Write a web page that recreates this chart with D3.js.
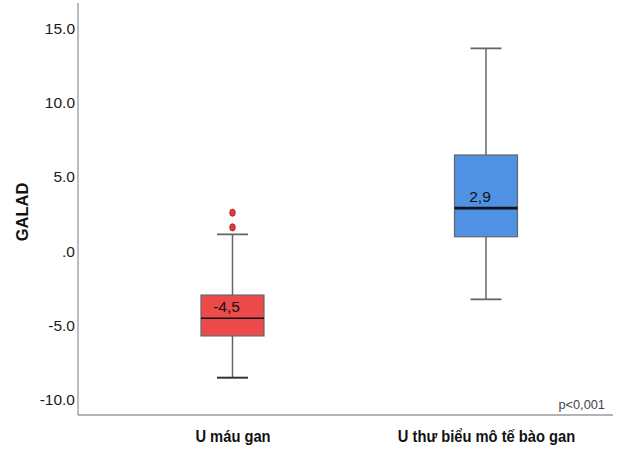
<!DOCTYPE html>
<html>
<head>
<meta charset="utf-8">
<script src="https://cdn.jsdelivr.net/npm/d3@7/dist/d3.min.js"></script>
<style>
  html, body { margin: 0; padding: 0; background: #fff; }
  svg { display: block; font-family: "Liberation Sans", Arial, sans-serif; }
</style>
</head>
<body>
<svg id="chart" width="622" height="450"></svg>
<script>
// Box plot of GALAD score by tumour type
const categories = ["U máu gan", "U thư biểu mô tế bào gan"];
const whiskerLow  = [-8.5, -3.23];
const q1          = [-5.69, 0.98];
const medians     = [-4.5, 2.9];
const q3          = [-2.94, 6.48];
const whiskerHigh = [1.14, 13.65];
const outliers    = [[1.61, 2.6], []];
const medianLabels = ["-4,5", "2,9"];
const yTicks = [-10, -5, 0, 5, 10, 15];
const yTickLabels = ["-10.0", "-5.0", ".0", "5.0", "10.0", "15.0"];
const fills = ["#ec4a4b", "#4f92e3"];
const pNote = "p<0,001";

const svg = d3.select("#chart");

const frame = { left: 78, right: 613, top: 3, bottom: 415 };

const y = d3.scaleLinear().domain([-10, 15]).range([400, 28.3]);
const x = d3.scalePoint().domain(categories).range([232.5, 486]);

const boxW = 63, capW = 31;

// frame lines
svg.append("line")
  .attr("x1", frame.left).attr("x2", frame.left)
  .attr("y1", frame.top).attr("y2", frame.bottom)
  .attr("stroke", "#9a9a9a").attr("stroke-width", 1.3);
svg.append("line")
  .attr("x1", frame.left).attr("x2", frame.right)
  .attr("y1", frame.bottom).attr("y2", frame.bottom)
  .attr("stroke", "#9a9a9a").attr("stroke-width", 1.3);

// y axis labels (no tick marks)
const yAxis = d3.axisLeft(y)
  .tickValues(yTicks)
  .tickFormat((d, i) => yTickLabels[i])
  .tickSize(0)
  .tickPadding(3);
const yg = svg.append("g").attr("transform", `translate(${frame.left},0)`).call(yAxis);
yg.select(".domain").remove();
yg.selectAll("text")
  .attr("font-size", 15.5)
  .attr("font-family", "'Liberation Sans', Arial, sans-serif")
  .attr("fill", "#1a1a1a");

// y axis title
svg.append("text")
  .attr("transform", `translate(28,212) rotate(-90)`)
  .attr("text-anchor", "middle")
  .attr("font-size", 16.5)
  .attr("font-weight", "bold")
  .attr("fill", "#111")
  .text("GALAD");

// x axis category labels, slightly condensed around each tick centre
const xAxis = d3.axisBottom(x).tickSize(0).tickPadding(0);
const xg = svg.append("g").attr("transform", `translate(0,${frame.bottom})`).call(xAxis);
xg.select(".domain").remove();
xg.selectAll("text")
  .attr("dy", null)
  .attr("y", 0)
  .attr("transform", "translate(0,27) scale(0.92,1)")
  .attr("font-size", 16)
  .attr("font-weight", "bold")
  .attr("font-family", "'Liberation Sans', Arial, sans-serif")
  .attr("fill", "#111");

// boxes
categories.forEach((c, i) => {
  const cx = x(c);
  const g = svg.append("g");
  // whisker stems
  g.append("line")
    .attr("x1", cx).attr("x2", cx)
    .attr("y1", y(whiskerHigh[i])).attr("y2", y(q3[i]))
    .attr("stroke", "#666").attr("stroke-width", 1.5);
  g.append("line")
    .attr("x1", cx).attr("x2", cx)
    .attr("y1", y(q1[i])).attr("y2", y(whiskerLow[i]))
    .attr("stroke", "#666").attr("stroke-width", 1.5);
  // caps
  [whiskerHigh[i], whiskerLow[i]].forEach(v => {
    const dark = i === 0 && v === whiskerLow[i];
    g.append("line")
      .attr("x1", cx - capW / 2).attr("x2", cx + capW / 2)
      .attr("y1", y(v)).attr("y2", y(v))
      .attr("stroke", dark ? "#333" : "#666")
      .attr("stroke-width", dark ? 2 : 1.8);
  });
  // box
  g.append("rect")
    .attr("x", cx - boxW / 2)
    .attr("y", y(q3[i]))
    .attr("width", boxW)
    .attr("height", y(q1[i]) - y(q3[i]))
    .attr("fill", fills[i])
    .attr("stroke", "#666").attr("stroke-width", 1.2);
  // median
  g.append("line")
    .attr("x1", cx - boxW / 2).attr("x2", cx + boxW / 2)
    .attr("y1", y(medians[i])).attr("y2", y(medians[i]))
    .attr("stroke", "#111").attr("stroke-width", i === 0 ? 1.5 : 2.8);
  // median label
  g.append("text")
    .attr("x", cx - 6)
    .attr("y", y(medians[i]) - 6)
    .attr("text-anchor", "middle")
    .attr("font-size", 15.5)
    .attr("fill", "#111")
    .text(medianLabels[i]);
  // outliers
  outliers[i].forEach(v => {
    g.append("ellipse")
      .attr("cx", cx).attr("cy", y(v))
      .attr("rx", 2.8).attr("ry", 3.6)
      .attr("fill", "#e23a3c")
      .attr("stroke", "#9a2022").attr("stroke-width", 0.8);
  });
});

// significance note
svg.append("text")
  .attr("x", 605).attr("y", 409)
  .attr("text-anchor", "end")
  .attr("font-size", 12.8)
  .attr("fill", "#444")
  .text(pNote);
</script>
</body>
</html>
